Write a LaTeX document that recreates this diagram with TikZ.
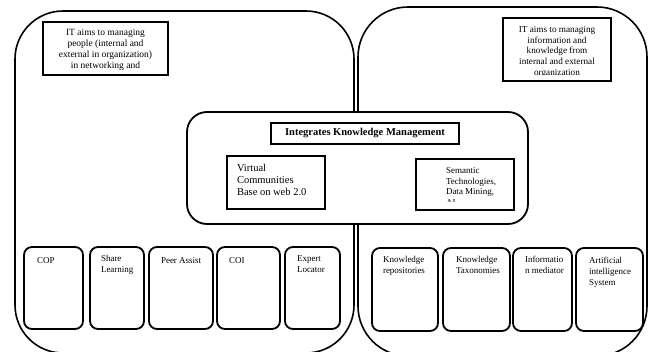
\documentclass[tikz,border=0pt]{standalone}
\usepackage{fontspec}
\setmainfont{Liberation Serif}
\begin{document}
\begin{tikzpicture}[x=1pt,y=-1pt,
  bigbox/.style={draw, line width=1.6pt, inner sep=0pt, outer sep=0pt},
  sqbox/.style={draw, line width=2.2pt, inner sep=0pt, outer sep=0pt, fill=white},
  smallbox/.style={draw, line width=1.8pt, rounded corners=8pt, inner sep=0pt, outer sep=0pt},
  txt/.style={inner sep=0pt, outer sep=0pt, anchor=north west, align=left},
  ctxt/.style={inner sep=0pt, outer sep=0pt, anchor=north, align=center},
  topfont/.style={font=\fontsize{9.5}{11}\selectfont},
  trfont/.style={font=\fontsize{9.2}{10.7}\selectfont},
  botfont/.style={font=\fontsize{9}{11}\selectfont}
]
\useasboundingbox (0,0) rectangle (648,351);
% big containers
\node (leftbig) [bigbox, rounded corners=48pt, minimum width=339pt, minimum height=342pt] at (184.5,182) {};
\node (rightbig) [bigbox, rounded corners=50pt, minimum width=289pt, minimum height=349pt] at (502.5,181.5) {};
% top text boxes
\node (tlbox) [sqbox, minimum width=125pt, minimum height=53pt] at (105.5,48.5) {};
\node (tltext) [ctxt, topfont] at (105.5,29.2) {IT aims to managing\\people (internal  and\\external in organization)\\in networking and};
\node (trbox) [sqbox, minimum width=108pt, minimum height=63pt] at (557,49.5) {};
\begin{scope}
  \clip (505,20) rectangle (609,74.5);
  \node (trtext) [ctxt, trfont] at (557,26.3) {IT aims to managing\\information and\\knowledge from\\internal and external\\organization};
\end{scope}
% central box
\node (center) [bigbox, line width=1.8pt, fill=white, rounded corners=20pt, minimum width=341pt, minimum height=112pt] at (357.5,168) {};
\node (title) [sqbox, minimum width=188pt, minimum height=21pt, font=\fontsize{10.5}{12}\selectfont\bfseries] at (365,133.5) {Integrates Knowledge Management};
\node (vcbox) [sqbox, minimum width=98pt, minimum height=53pt] at (276,182.5) {};
\node (vctext) [txt, font=\fontsize{10.5}{12}\selectfont] at (237,164.4) {Virtual\\Communities\\Base on web 2.0};
\node (stbox) [sqbox, minimum width=98pt, minimum height=51pt] at (465,184.5) {};
\begin{scope}
  \clip (418,161) rectangle (512,201.8);
  \node (sttext) [txt, font=\fontsize{9}{10.5}\selectfont] at (446,167.8) {Semantic\\Technologies,\\Data Mining,\\AI};
\end{scope}
% bottom left boxes
\node (cop) [smallbox, minimum width=59pt, minimum height=82pt] at (53.5,288) {};
\node (share) [smallbox, minimum width=54pt, minimum height=82pt] at (117,288) {};
\node (peer) [smallbox, minimum width=64pt, minimum height=82pt] at (181,288) {};
\node (coi) [smallbox, minimum width=63pt, minimum height=82pt] at (248.5,288) {};
\node (expert) [smallbox, minimum width=55pt, minimum height=82pt] at (312.5,288) {};
\node (coptext) [txt, botfont] at (37,258) {COP};
\node (sharetext) [txt, botfont] at (101,255.5) {Share\\Learning};
\node (peertext) [txt, botfont] at (161,258) {Peer Assist};
\node (coitext) [txt, botfont] at (229,258) {COI};
\node (experttext) [txt, botfont] at (297,255.2) {Expert\\Locator};
% bottom right boxes
\node (krep) [smallbox, minimum width=66pt, minimum height=83pt] at (405,289.5) {};
\node (ktax) [smallbox, minimum width=67pt, minimum height=83pt] at (476.5,289.5) {};
\node (imed) [smallbox, minimum width=59pt, minimum height=83pt] at (542.5,289.5) {};
\node (aisys) [smallbox, minimum width=67pt, minimum height=83pt] at (609.5,289.5) {};
\node (kreptext) [txt, botfont] at (383,256) {Knowledge\\repositories};
\node (ktaxtext) [txt, botfont] at (456,256) {Knowledge\\Taxonomies};
\node (imedtext) [txt, botfont] at (525,256.5) {Informatio\\n mediator};
\node (aisystext) [txt, botfont] at (589,257) {Artificial\\intelligence\\System};
\end{tikzpicture}
\end{document}
